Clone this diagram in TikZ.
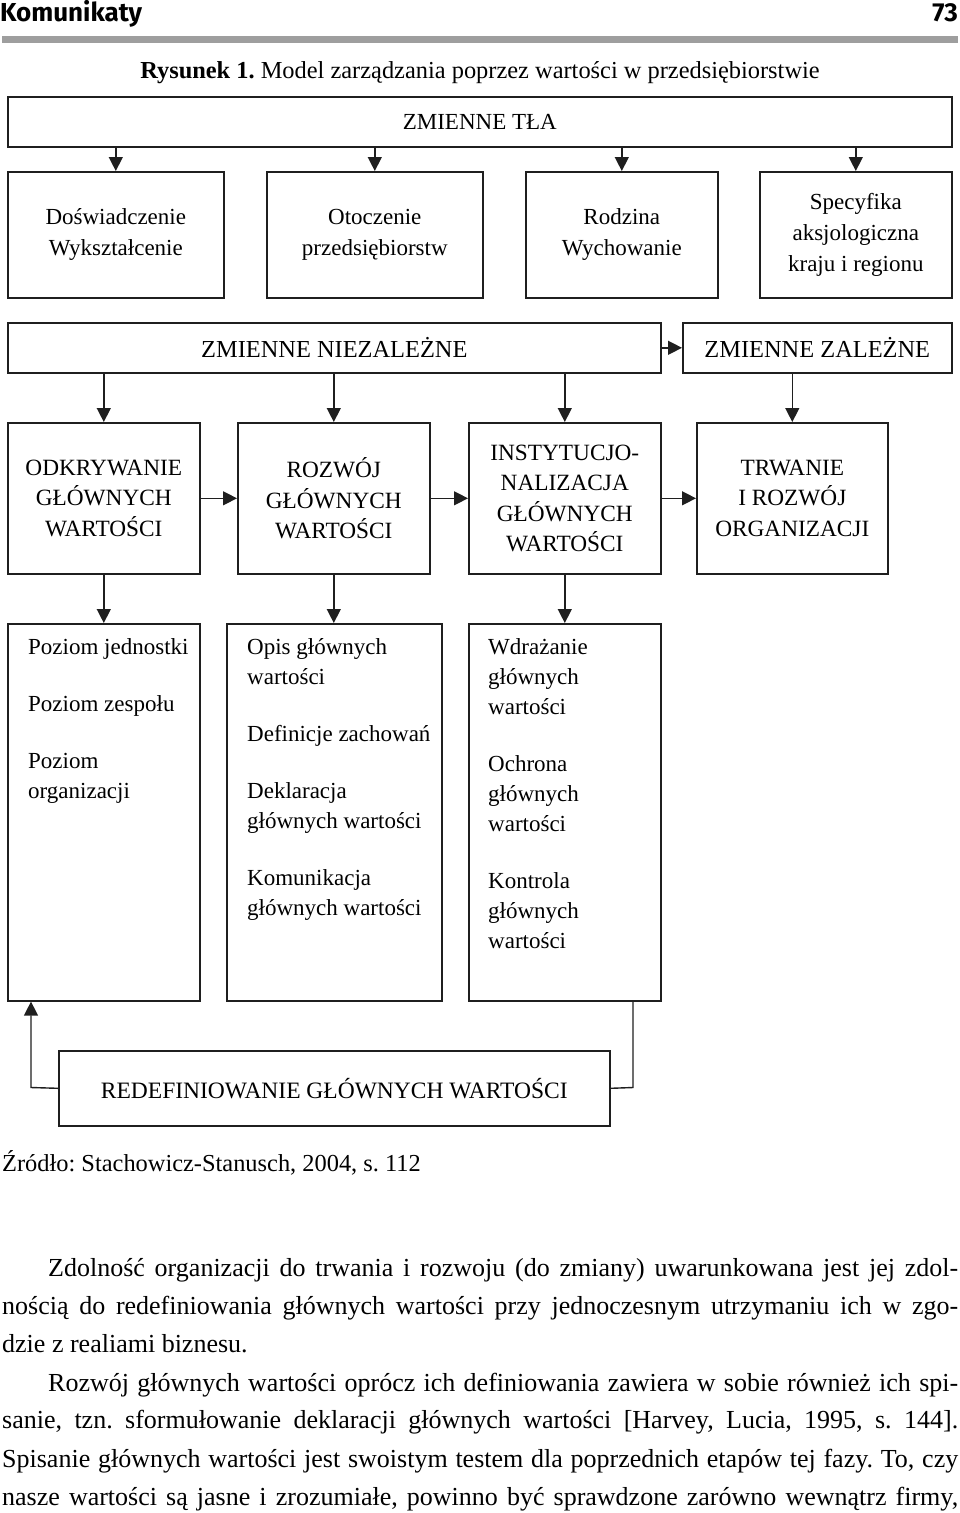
\documentclass[tikz,border=0pt]{standalone}
\usepackage{fontspec}
\setmainfont{Liberation Serif}
\newfontfamily\hdrfont{Fira Sans}
\usetikzlibrary{arrows.meta}
\newcommand\fsz[2]{\fontsize{#1}{#2}\selectfont}
\frenchspacing
\begin{document}
\begin{tikzpicture}[x=1pt,y=-1pt,
  box/.style={draw=black!88, line width=1.6pt, inner sep=0pt, anchor=north west, align=center},
  arr/.style={draw=black!88, line width=1.4pt, line join=miter, -{Triangle[width=14pt,length=14pt]}},
  ln/.style={draw=black!88, line width=1.4pt, line join=miter},
  txt/.style={anchor=north west, align=left, inner sep=0pt, font=\fsz{23}{30}},
  body/.style={anchor=base west, inner sep=0pt, font=\fsz{26}{38}}
]
\useasboundingbox (0,0) rectangle (960,1513);
% header
\node[anchor=base west, inner sep=0pt, font=\hdrfont\bfseries\fsz{26}{30}] (hd) at (0,21) {Komunikaty};
\node[anchor=base east, inner sep=0pt, font=\hdrfont\bfseries\fsz{26}{30}] (pg) at (958,21) {73};
\fill[black!38] (2,36) rectangle (958,43);
\node[anchor=base, inner sep=0pt, font=\fsz{24.4}{28}] (cap) at (480,78) {\textbf{Rysunek 1.} Model zarządzania poprzez wartości w przedsiębiorstwie};
% row 1
\node[box, minimum width=944pt, minimum height=50pt, font=\fsz{23}{28}] (tla) at (7,96) {ZMIENNE TŁA};
% row 2
\begin{scope}[every node/.append style={font=\fsz{23}{31}}]
\node[box, minimum width=216pt, minimum height=126pt] (a1) at (7,171) {Doświadczenie\\Wykształcenie};
\node[box, minimum width=216pt, minimum height=126pt] (a2) at (266,171) {Otoczenie\\przedsiębiorstw};
\node[box, minimum width=192pt, minimum height=126pt] (a3) at (525,171) {Rodzina\\Wychowanie};
\node[box, minimum width=192pt, minimum height=126pt] (a4) at (759,171) {Specyfika\\aksjologiczna\\kraju i regionu};
\end{scope}
\foreach \n in {a1,a2,a3,a4} \draw[arr] (tla.south -| \n.north) -- (\n.north);
% row 3
\node[box, minimum width=653pt, minimum height=50pt, font=\fsz{24.4}{28}] (niez) at (7,322) {ZMIENNE NIEZALEŻNE};
\node[box, minimum width=269pt, minimum height=50pt, font=\fsz{24.4}{28}] (zal) at (682,322) {ZMIENNE ZALEŻNE};
\draw[arr] (niez.east) -- (zal.west);
% row 4
\begin{scope}[every node/.append style={font=\fsz{23.3}{30.5}}]
\node[box, minimum width=192pt, minimum height=151pt] (b1) at (7,422) {ODKRYWANIE\\GŁÓWNYCH\\WARTOŚCI};
\node[box, minimum width=192pt, minimum height=151pt] (b2) at (237,422) {ROZWÓJ\\GŁÓWNYCH\\WARTOŚCI};
\node[box, minimum width=192pt, minimum height=151pt] (b3) at (468,422) {INSTYTUCJO-\\NALIZACJA\\GŁÓWNYCH\\WARTOŚCI};
\node[box, minimum width=191pt, minimum height=151pt] (b4) at (696,422) {TRWANIE\\I ROZWÓJ\\ORGANIZACJI};
\end{scope}
\foreach \n in {b1,b2,b3} \draw[arr] (niez.south -| \n.north) -- (\n.north);
\draw[arr] (zal.south -| b4.north) -- (b4.north);
\draw[arr] (b1.east) -- (b2.west);
\draw[arr] (b2.east) -- (b3.west);
\draw[arr] (b3.east) -- (b4.west);
% row 5
\node[box, minimum width=192pt, minimum height=377pt] (c1) at (7,623) {};
\node[box, minimum width=215pt, minimum height=377pt] (c2) at (226,623) {};
\node[box, minimum width=192pt, minimum height=377pt] (c3) at (468,623) {};
\draw[arr] (b1.south) -- (b1.south |- c1.north);
\draw[arr] (b2.south) -- (b2.south |- c2.north);
\draw[arr] (b3.south) -- (b3.south |- c3.north);
\node[txt] (t1) at (28,638) {Poziom jednostki\\[27pt]Poziom zespołu\\[27pt]Poziom\\organizacji};
\node[txt] (t2) at (247,638) {Opis głównych\\wartości\\[27pt]Definicje zachowań\\[27pt]Deklaracja\\głównych wartości\\[27pt]Komunikacja\\głównych wartości};
\node[txt] (t3) at (488,638) {Wdrażanie\\głównych\\wartości\\[27pt]Ochrona\\głównych\\wartości\\[27pt]Kontrola\\głównych\\wartości};
% redefinition
\node[box, minimum width=551pt, minimum height=75pt, font=\fsz{23.5}{28}] (red) at (58,1050) {REDEFINIOWANIE GŁÓWNYCH WARTOŚCI};
\coordinate (fbL) at (31,1087.5);
\coordinate (fbR) at (633,1087.5);
\draw[arr] (red.west) -- (fbL) -- (fbL |- c1.south);
\draw[ln] (fbR |- c3.south) -- (fbR) -- (red.east);
% source
\node[anchor=base west, inner sep=0pt, font=\fsz{24.4}{28}] (src) at (2,1171) {Źródło: Stachowicz-Stanusch, 2004, s. 112};
% body text
\node[body] (l1) at (48,1276) {\makebox[910pt][s]{Zdolność organizacji do trwania i rozwoju (do zmiany) uwarunkowana jest jej zdol-}};
\node[body] (l2) at (2,1314) {\makebox[956pt][s]{nością do redefiniowania głównych wartości przy jednoczesnym utrzymaniu ich w zgo-}};
\node[body] (l3) at (2,1352) {dzie z realiami biznesu.};
\node[body] (l4) at (48,1391) {\makebox[910pt][s]{Rozwój głównych wartości oprócz ich definiowania zawiera w sobie również ich spi-}};
\node[body] (l5) at (2,1428) {\makebox[956pt][s]{sanie, tzn. sformułowanie deklaracji głównych wartości [Harvey, Lucia, 1995, s. 144].}};
\node[body] (l6) at (2,1467) {\makebox[956pt][s]{Spisanie głównych wartości jest swoistym testem dla poprzednich etapów tej fazy. To, czy}};
\node[body] (l7) at (2,1505) {\makebox[956pt][s]{nasze wartości są jasne i zrozumiałe, powinno być sprawdzone zarówno wewnątrz firmy,}};
\end{tikzpicture}
\end{document}
